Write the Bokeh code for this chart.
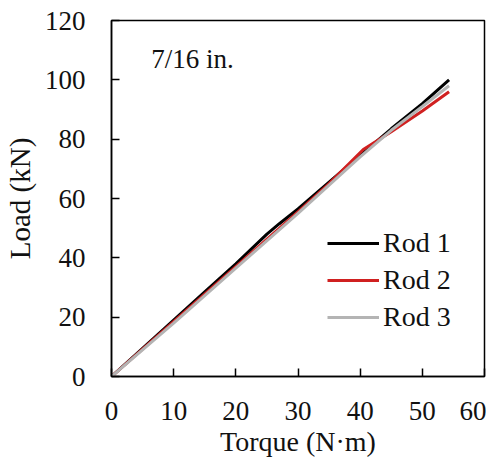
from bokeh.plotting import figure
from bokeh.models import Range1d, Label, Legend, LegendItem, FixedTicker
from bokeh.embed import file_html
from bokeh.resources import INLINE

# Data
rod1_torque = [0, 5, 10, 15, 20, 25, 27, 30, 35, 40, 45, 50, 54.3]
rod1_load = [0, 9.5, 19, 28.5, 38, 48, 51.5, 56.5, 65.5, 74.5, 83.5, 92, 100]
rod2_torque = [0, 10, 20, 30, 35, 40.5, 45, 50, 54.3]
rod2_load = [0, 18.5, 37, 55.5, 65, 76.5, 82.5, 89.5, 96]
rod3_torque = [0, 10, 20, 30, 40, 45, 50, 54.3]
rod3_load = [0, 18, 36.5, 55, 74, 83, 91, 98]
x_ticks = [0, 10, 20, 30, 40, 50, 60]
y_ticks = [0, 20, 40, 60, 80, 100, 120]

FONT = "Liberation Serif"
TXT = "#111111"

p = figure(output_backend="svg", toolbar_location=None,
           frame_width=373, frame_height=356,
           min_border_left=110, min_border_top=20, min_border_right=2, min_border_bottom=60,
           x_range=Range1d(0, 60), y_range=Range1d(0, 120))
p.xgrid.visible = False
p.ygrid.visible = False
p.outline_line_color = "black"
p.outline_line_width = 1.5
p.background_fill_color = "white"
p.border_fill_color = "white"

p.xaxis.axis_label = "Torque (N·m)"
p.yaxis.axis_label = "Load (kN)"
p.xaxis.ticker = FixedTicker(ticks=x_ticks)
p.yaxis.ticker = FixedTicker(ticks=y_ticks)
for ax in (p.xaxis[0], p.yaxis[0]):
    ax.axis_line_color = "black"
    ax.axis_line_width = 1.5
    ax.major_tick_in = 8
    ax.major_tick_out = 0
    ax.major_tick_line_width = 1.5
    ax.minor_tick_line_color = None
    ax.major_label_text_font = FONT
    ax.major_label_text_font_size = "27px"
    ax.major_label_text_color = TXT
    ax.axis_label_text_font = FONT
    ax.axis_label_text_font_style = "normal"
    ax.axis_label_text_color = TXT
p.xaxis.axis_label_text_font_size = "28px"
p.yaxis.axis_label_text_font_size = "29px"
p.xaxis.major_label_standoff = 25
p.yaxis.major_label_standoff = 26
p.xaxis.axis_label_standoff = 3
p.yaxis.axis_label_standoff = 6

r1 = p.line(rod1_torque, rod1_load, line_color="black", line_width=3)
r2 = p.line(rod2_torque, rod2_load, line_color="#d02020", line_width=3)
r3 = p.line(rod3_torque, rod3_load, line_color="#b4b4b4", line_width=3)

legend = Legend(items=[LegendItem(label="Rod 1", renderers=[r1]),
                       LegendItem(label="Rod 2", renderers=[r2]),
                       LegendItem(label="Rod 3", renderers=[r3])],
                location=(216, 43), border_line_color=None, background_fill_alpha=0,
                padding=0, margin=0, spacing=5, glyph_width=52, glyph_height=30,
                label_height=30, label_standoff=4,
                label_text_font=FONT, label_text_font_size="28px", label_text_color=TXT)
p.add_layout(legend)

p.add_layout(Label(x=6.4, y=107, text="7/16 in.", text_font=FONT, text_font_size="27px",
                   text_baseline="middle", text_color=TXT))

open("out.html", "w").write(file_html(p, INLINE))
